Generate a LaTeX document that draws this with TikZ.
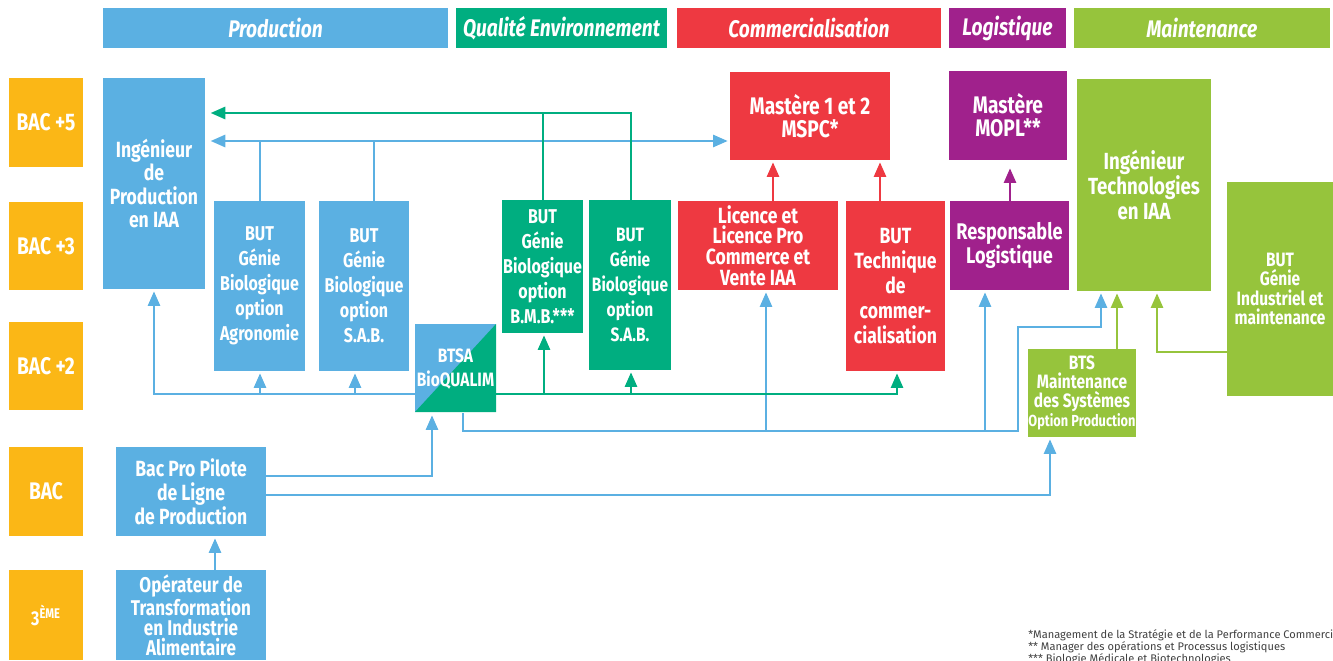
\documentclass[tikz,border=0pt]{standalone}
\usepackage{fontspec}
\setmainfont{Fira Sans}[FakeStretch=0.8]
\newfontfamily\notefont{Fira Sans}
\usetikzlibrary{arrows.meta}

\definecolor{cblue}{RGB}{91,176,226}
\definecolor{cgreen}{RGB}{0,174,128}
\definecolor{cred}{RGB}{238,57,65}
\definecolor{cpurple}{RGB}{160,33,140}
\definecolor{clime}{RGB}{150,196,60}
\definecolor{corange}{RGB}{251,183,22}

\tikzset{
  wh/.style 2 args={minimum width=#1*0.75pt, minimum height=#2*0.75pt},
  fs/.style 2 args={font=\bfseries\fontsize{#1}{#2}\selectfont},
  cell/.style={fill=#1, text=white, inner sep=0pt, align=center, fs={15}{18.75}},
  grade/.style={fill=corange, text=white, inner sep=0pt, fs={18}{20}},
  banner/.style={fill=#1, text=white, inner sep=0pt,
    font=\bfseries\itshape\fontsize{18}{20}\selectfont},
  link/.style={draw=#1, line width=2pt},
  arr/.style={->, shorten >=1.5pt},
  >={Triangle[length=11pt,width=9pt]},
}

\begin{document}
\begin{tikzpicture}[x=0.75pt, y=-0.75pt]
  \useasboundingbox (0,0) rectangle (1333,660);
  \clip (0,0) rectangle (1333,660);

  % levels
  \node[grade, wh={74}{89}] (bac5) at (46,122.5) {BAC +5};
  \node[grade, wh={74}{88}] (bac3) at (46,246) {BAC +3};
  \node[grade, wh={74}{88}] (bac2) at (46,366) {BAC +2};
  \node[grade, wh={74}{89}] (bac) at (46,491.5) {BAC};
  \node[grade, wh={74}{90}, fs={15}{16}] (troisieme) at (46,615) {3\textsuperscript{ÈME}};

  % sectors
  \node[banner=cblue, wh={345}{40}] (hprod) at (275.5,28) {Production};
  \node[banner=cgreen, wh={211}{40}] (hqual) at (561.5,28) {Qualité Environnement};
  \node[banner=cred, wh={264}{40}] (hcom) at (809,28) {Commercialisation};
  \node[banner=cpurple, wh={117}{40}] (hlog) at (1007.5,28) {Logistique};
  \node[banner=clime, wh={256}{40}] (hmaint) at (1202,28) {Maintenance};

  % production
  \node[cell=cblue, fs={16.5}{17.6}, wh={102}{211}] (ingprod) at (154,183.5) {Ingénieur\\de\\Production\\en IAA};
  \node[cell=cblue, wh={91}{170}] (butagro) at (259.5,286) {BUT\\Génie\\Biologique\\option\\Agronomie};
  \node[cell=cblue, wh={90}{170}] (butsab) at (364,286) {BUT\\Génie\\Biologique\\option\\S.A.B.};
  \node[cell=cblue, fs={16.5}{18}, wh={150}{89}] (bacpro) at (191,491.5) {Bac Pro Pilote\\de Ligne\\de Production};
  \node[cell=cblue, fs={16}{15}, wh={150}{90}] (operateur) at (191,615) {Opérateur de\\Transformation\\en Industrie\\Alimentaire};

  % BTSA, half blue half green
  \fill[cblue] (415,324) rectangle (496,412);
  \fill[cgreen] (415,412) -- (496,412) -- (496,324) -- cycle;
  \node[cell=none, fs={14.5}{18}, wh={81}{88}] (btsa) at (455.5,369) {BTSA\\BioQUALIM};

  % qualite
  \node[cell=cgreen, wh={81}{133}] (butbmb) at (542.5,266.5) {BUT\\Génie\\Biologique\\option\\B.M.B.***};
  \node[cell=cgreen, fs={14.5}{18.75}, wh={82}{170}] (butsabg) at (630,285) {BUT\\Génie\\Biologique\\option\\S.A.B.};

  % commercialisation
  \node[cell=cred, fs={18}{17.5}, wh={160}{88}] (master) at (810,116) {Mastère 1 et 2\\MSPC*};
  \node[cell=cred, fs={16.5}{15.5}, wh={160}{89}] (licence) at (758,245.5) {Licence et\\Licence Pro\\Commerce et\\Vente IAA};
  \node[cell=cred, fs={16.5}{18.75}, wh={99}{170}] (techco) at (895.5,286) {BUT\\Technique\\de\\commer-\\cialisation};

  % logistique
  \node[cell=cpurple, fs={18}{17.5}, wh={118}{89}] (mopl) at (1008,115.5) {Mastère\\MOPL**};
  \node[cell=cpurple, fs={17}{18}, wh={119}{89}] (resplog) at (1009.5,245.5) {Responsable\\Logistique};

  % maintenance
  \node[cell=clime, fs={17.5}{19}, wh={134}{212}] (ingtech) at (1144,185) {Ingénieur\\Technologies\\en IAA};
  \node[cell=clime, fs={14.5}{14.6}, wh={106}{214}] (butgi) at (1280,289) {BUT\\Génie\\Industriel et\\maintenance};
  \node[cell=clime, fs={14.5}{14.2}, wh={106}{88}] (bts) at (1082,393) {BTS\\Maintenance\\des Systèmes\\{\fontsize{12}{13}\selectfont Option Production}};

  % blue links
  \draw[link=cblue, arr] (215,0 |- operateur.north) -- (215,0 |- bacpro.south);
  \draw[link=cblue, arr] (bacpro.east |- 0,476) -| (432,0 |- btsa.south);
  \draw[link=cblue, arr] (bacpro.east |- 0,495) -| (1050,0 |- bts.south);
  \draw[link=cblue, arr] (btsa.west |- 0,394) -| (154,0 |- ingprod.south);
  \draw[link=cblue, arr] (260,394) -- (260,0 |- butagro.south);
  \draw[link=cblue, arr] (355,394) -- (355,0 |- butsab.south);
  \draw[link=cblue, arr] (463,0 |- btsa.south) |- (1018,431) |- (1101,327) -- (1101,0 |- ingtech.south);
  \draw[link=cblue, arr] (766,431) -- (766,0 |- licence.south);
  \draw[link=cblue, arr] (985,431) -- (985,0 |- resplog.south);
  \draw[link=cblue, <->, shorten >=1.5pt, shorten <=4pt] (ingprod.east |- 0,141) -- (master.west |- 0,141);
  \draw[link=cblue] (260,141) -- (260,0 |- butagro.north);
  \draw[link=cblue] (374,141) -- (374,0 |- butsab.north);

  % green links
  \draw[link=cgreen, arr, shorten >=4pt] (631,0 |- butsabg.north) |- (ingprod.east |- 0,113);
  \draw[link=cgreen] (543,0 |- butbmb.north) -- (543,113);
  \draw[link=cgreen, arr] (btsa.east |- 0,394) -| (897,0 |- techco.south);
  \draw[link=cgreen, arr] (544,394) -- (544,0 |- butbmb.south);
  \draw[link=cgreen, arr] (631,394) -- (631,0 |- butsabg.south);

  % red, purple, lime links
  \draw[link=cred, arr] (773,0 |- licence.north) -- (773,0 |- master.south);
  \draw[link=cred, arr] (880,0 |- techco.north) -- (880,0 |- master.south);
  \draw[link=cpurple, arr, shorten >=6pt] (1010,0 |- resplog.north) -- (1010,0 |- mopl.south);
  \draw[link=clime, arr] (1117,0 |- bts.north) -- (1117,0 |- ingtech.south);
  \draw[link=clime, arr] (butgi.west |- 0,352) -| (1157,0 |- ingtech.south);

  % notes
  \node[anchor=north west, inner sep=0pt, align=left, text=black!75,
    font=\notefont\fontsize{8.3}{9}\selectfont] (notes) at (1028,629)
    {*Management de la Stratégie et de la Performance Commerciale\\
     ** Manager des opérations et Processus logistiques\\
     *** Biologie Médicale et Biotechnologies};
\end{tikzpicture}
\end{document}
